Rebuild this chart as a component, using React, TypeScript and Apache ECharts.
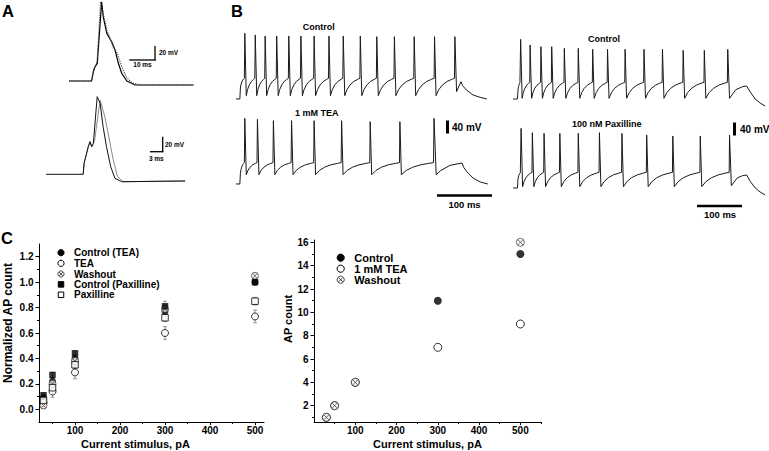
import React, { useEffect, useRef } from "react";
import * as echarts from "echarts";

// ---------- Panel A: single action potentials (ms, mV) ----------
const apTopSolid = [[0,-70],[8.8,-70],[9.5,-56.7],[10.1,-49.6],[11.0,-44.7],[12.7,43.3],[13.3,21.9],[14.7,-1.9],[16.6,-13.9],[17.9,-25.7],[19.2,-44.7],[20.5,-59],[22.5,-70],[25.7,-75.7],[48.4,-75.7]];
const apTopDotted = [[0,-70],[8.8,-70],[9.5,-54],[10.3,-48.6],[10.9,-43],[12.3,43.3],[13.2,28.6],[14.7,2.9],[17.2,-21],[18.8,-30.4],[20.5,-49.6],[22.2,-63.9],[24.4,-72.4],[27.6,-75.7],[48.4,-75.7]];
const apBotFirst = [[0,-70],[8.8,-70],[9.0,-55.3],[9.5,-44.3],[10.0,-33.2],[10.4,-26.5],[10.8,-33.2],[11.2,-28.7],[12.1,33.5],[12.8,24.7],[13.5,-6.5],[14.3,-33.2],[15.3,-59.9],[16.3,-75.3],[17.9,-79.9],[32.9,-78.9]];
const apBotSecond = [[8.8,-70],[9.0,-55.3],[9.5,-44.3],[10.0,-33.2],[10.4,-26.5],[10.8,-33.2],[11.2,-28.7],[11.5,-24.3],[12.8,29.1],[13.9,6.8],[14.7,-15.3],[15.9,-50.9],[16.9,-73.2],[18.3,-79.9],[32.9,-78.9]];

// ---------- Panel B: spike trains (ms, mV) ----------
// interspike ramp shape: [fraction of interval, fraction of rise]
const rampShape = [[0.15,0.35],[0.35,0.62],[0.6,0.82],[0.85,0.94],[1,1]];

const ctrlLeftSpikes = [16,35,53,74,96,118,142,169,195,226,256,288,324,361,398];
const ctrlLeftPeaks = [127,122,119,119,119,119,119,119,119,119,117,117,117,117,117];
const ctrlLeftTail = [[401,-48],[409,-18],[412,-30],[419,-43],[431,-58],[444,-65],[456,-70]];

const teaSpikes = [16,39,68,101,142,192,244,298,360];
const teaPeaks = [127,124,120,120,120,120,117,117,127];
const teaTail = [[364,-42],[372,-30],[389,-14],[411,-7],[414,-20],[420,-34],[431,-52],[444,-64],[458,-70]];

const ctrlRightSpikes = [17,38,62,86,114,145,177,210,249,291,332,378,425,477];
const ctrlRightPeaks = [109,92,87,87,82,82,79,79,79,79,79,76,76,79];
const ctrlRightTail = [[481,-68],[495,-42],[510,-33],[519,-31],[527,-49],[538,-70],[549,-82],[560,-91]];

const paxSpikes = [18,43,69,104,145,192,242,297,355,416,481];
const paxPeaks = [109,96,94,94,94,96,94,89,86,86,89];
const paxTail = [[485,-63],[498,-40],[510,-33],[519,-31],[527,-50],[538,-70],[549,-82],[560,-91]];

// ---------- Panel C left: normalized AP count ----------
const stimulus = [30, 50, 100, 300, 500];
const normCtrlTea = [0.09, 0.22, 0.40, 0.77, 1.0];
const normTea = [0.05, 0.14, 0.29, 0.60, 0.73];
const normWashout = [0.03, 0.20, 0.38, 0.79, 1.05];
const normCtrlPax = [0.11, 0.27, 0.44, 0.81, 1.0];
const normPax = [0.07, 0.17, 0.35, 0.72, 0.85];
const errCtrlTea = [0.02, 0.02, 0.03, 0.04, 0.0];
const errTea = [0.04, 0.045, 0.05, 0.05, 0.05];
const errWashout = [0.025, 0.02, 0.03, 0.03, 0.02];
const errCtrlPax = [0.02, 0.02, 0.02, 0.04, 0.0];
const errPax = [0.02, 0.03, 0.03, 0.03, 0.03];
const xTickLabels = [100, 200, 300, 400, 500];
const xMinorLeft = [50, 150, 250, 350, 450];
const yTickLeft = [0, 0.2, 0.4, 0.6, 0.8, 1.0, 1.2];
const yMinorLeft = [0.1, 0.3, 0.5, 0.7, 0.9, 1.1];

// ---------- Panel C right: AP count ----------
const countCtrl = [1, 2, 4, 11, 15];
const countTea = [1, 2, 4, 7, 9];
const countWashout = [1, 2, 4, null, 16];
const xMinorRight = [50, 150, 250, 350, 450, 550];
const yTickRight = [2, 4, 6, 8, 10, 12, 14, 16];
const yMinorRight = [1, 3, 5, 7, 9, 11, 13, 15];

const FONT = "'Liberation Sans', Arial, Helvetica, sans-serif";
const WASH_SYMBOL = "path://M10 5A5 5 0 1 1 0 5A5 5 0 1 1 10 5ZM1.8 1.8L8.2 8.2M8.2 1.8L1.8 8.2";

type Train = { rest: number; onset: number; jump: number; trough: number; thr: number; fall: number; spikes: number[]; peaks: number[]; tail: number[][] };

function buildTrain(tr: Train) {
  const pts: number[][] = [[0, tr.rest], [tr.onset, tr.rest], [tr.onset + 1, tr.jump]];
  let t0 = tr.onset + 1;
  let v0 = tr.jump;
  tr.spikes.forEach((ts, i) => {
    const t1 = ts - 0.8;
    for (const [f, r] of rampShape) pts.push([t0 + f * (t1 - t0), v0 + r * (tr.thr - v0)]);
    pts.push([ts, tr.peaks[i]]);
    if (i < tr.spikes.length - 1) {
      t0 = ts + tr.fall;
      v0 = tr.trough;
      pts.push([t0, v0]);
    }
  });
  tr.tail.forEach((p) => pts.push(p));
  return pts;
}

const pairs = (xs: number[], ys: (number | null)[]) =>
  xs.map((x, i) => [x, ys[i]]).filter((p) => p[1] !== null);
const errData = (xs: number[], ys: number[], es: number[]) =>
  xs.map((x, i) => [x, ys[i] - es[i], ys[i] + es[i]]).filter((d) => d[2] - d[1] > 0);

function buildOption() {
  const grids = [
    { left: 69, top: 0.5, width: 126, height: 87.5 },
    { left: 46, top: 94.8, width: 140, height: 91.5 },
    { left: 236, top: 29, width: 253, height: 78.33 },
    { left: 236, top: 114, width: 253, height: 78.33 },
    { left: 513, top: 29, width: 253, height: 78.33 },
    { left: 513, top: 118, width: 253, height: 78.33 },
    { left: 39, top: 244, width: 225, height: 178 },
    { left: 314, top: 240, width: 227, height: 182 },
  ].map((g) => ({ ...g, outerBoundsMode: "none", containLabel: false }));

  const hidden = (gridIndex: number, min: number, max: number) => ({ type: "value", gridIndex, min, max, show: false });
  const labelStyle = { fontSize: 10, fontWeight: "bold", fontFamily: FONT, color: "#000" };
  const axisLine = { show: true, onZero: false, lineStyle: { color: "#000", width: 1 } };
  const mainX = (gridIndex: number, min: number, max: number, padding: number[]) => ({
    type: "value", gridIndex, min, max, position: "bottom",
    name: "Current stimulus, pA", nameLocation: "middle", nameGap: 16,
    nameTextStyle: { fontSize: 11, fontWeight: "bold", fontFamily: FONT, color: "#000", padding },
    axisLine,
    axisTick: { show: true, customValues: xTickLabels, length: 3, lineStyle: { color: "#000" } },
    axisLabel: { customValues: xTickLabels, margin: 3, ...labelStyle },
    splitLine: { show: false },
  });
  const minorAxis = (gridIndex: number, min: number, max: number, values: number[], position: string) => ({
    type: "value", gridIndex, min, max, position,
    axisLine: { show: false, onZero: false }, axisLabel: { show: false }, splitLine: { show: false },
    axisTick: { show: true, customValues: values, length: 2, lineStyle: { color: "#000" } },
  });

  const xAxis = [
    hidden(0, 0, 49), hidden(1, 0, 33.1), hidden(2, 0, 460), hidden(3, 0, 460), hidden(4, 0, 562), hidden(5, 0, 562),
    mainX(6, 20, 520, [0, 32, 0, 0]), minorAxis(6, 20, 520, xMinorLeft, "bottom"),
    mainX(7, 0, 550, [0, 0, 0, 0]), minorAxis(7, 0, 550, xMinorRight, "bottom"),
  ];
  const yAxis = [
    hidden(0, -80, 45), hidden(1, -86, 36), hidden(2, -95, 140), hidden(3, -95, 140), hidden(4, -95, 140), hidden(5, -95, 140),
    {
      type: "value", gridIndex: 6, min: -0.1, max: 1.3, position: "left",
      name: "Normalized AP count", nameLocation: "middle", nameGap: 25,
      nameTextStyle: { fontSize: 12, fontWeight: "bold", fontFamily: FONT, color: "#000", padding: [0, 0, 0, 20] },
      axisLine,
      axisTick: { show: true, customValues: yTickLeft, length: 3.5, lineStyle: { color: "#000" } },
      axisLabel: { customValues: yTickLeft, margin: 5.5, formatter: (v: number) => v.toFixed(1), ...labelStyle },
      splitLine: { show: false },
    },
    minorAxis(6, -0.1, 1.3, yMinorLeft, "left"),
    {
      type: "value", gridIndex: 7, min: 0.6, max: 16.2, position: "left",
      name: "AP count", nameLocation: "middle", nameGap: 19.5,
      nameTextStyle: { fontSize: 11, fontWeight: "bold", fontFamily: FONT, color: "#000", padding: [0, 0, 0, 24] },
      axisLine,
      axisTick: { show: true, customValues: yTickRight, length: 3.5, lineStyle: { color: "#000" } },
      axisLabel: { customValues: yTickRight, margin: 5.5, ...labelStyle },
      splitLine: { show: false },
    },
    minorAxis(7, 0.6, 16.2, yMinorRight, "left"),
  ];

  const trace = (data: number[][], idx: number, color: string, width: number, type: any = "solid") => ({
    type: "line", xAxisIndex: idx, yAxisIndex: idx, data, showSymbol: false, symbol: "none",
    lineStyle: { color, width, type }, silent: true, z: 3, clip: false,
  });

  const trainCtrlL = buildTrain({ rest: -70, onset: 7, jump: -37, trough: -60, thr: -8, fall: 2.7, spikes: ctrlLeftSpikes, peaks: ctrlLeftPeaks, tail: ctrlLeftTail });
  const trainTea = buildTrain({ rest: -70, onset: 7, jump: -38, trough: -42, thr: -6, fall: 2.7, spikes: teaSpikes, peaks: teaPeaks, tail: teaTail });
  const trainCtrlR = buildTrain({ rest: -70, onset: 10, jump: -45, trough: -68, thr: -20, fall: 3.3, spikes: ctrlRightSpikes, peaks: ctrlRightPeaks, tail: ctrlRightTail });
  const trainPax = buildTrain({ rest: -70, onset: 10, jump: -45, trough: -66, thr: -23, fall: 3.3, spikes: paxSpikes, peaks: paxPeaks, tail: paxTail });

  const errorSeries = (data: number[][], ax: number) => ({
    type: "custom", xAxisIndex: ax, yAxisIndex: ax, z: 1, silent: true,
    encode: { x: 0, y: [1, 2] },
    data,
    renderItem: (_p: any, api: any) => {
      const x = api.value(0);
      const lo = api.coord([x, api.value(1)]);
      const hi = api.coord([x, api.value(2)]);
      const st = { stroke: "#8a8a8a", lineWidth: 0.9 };
      return {
        type: "group",
        children: [
          { type: "line", shape: { x1: lo[0], y1: lo[1], x2: hi[0], y2: hi[1] }, style: st },
          { type: "line", shape: { x1: lo[0] - 2, y1: lo[1], x2: lo[0] + 2, y2: lo[1] }, style: st },
          { type: "line", shape: { x1: hi[0] - 2, y1: hi[1], x2: hi[0] + 2, y2: hi[1] }, style: st },
        ],
      };
    },
  });

  const filled = { color: "#000" };
  const open = { color: "#fff", borderColor: "#000", borderWidth: 1 };
  const wash = { color: "#fff", borderColor: "#333", borderWidth: 0.9 };
  const sc = (name: string, data: any[], ax: number, symbol: string, size: number, itemStyle: any) => ({
    type: "scatter", name, data, xAxisIndex: ax, yAxisIndex: ax, symbol, symbolSize: size, itemStyle,
    silent: true, emphasis: { disabled: true }, z: 2,
  });

  const series: any[] = [
    trace(apTopSolid, 0, "#000", 1.2),
    trace(apTopDotted, 0, "#444", 1.1, [1.2, 1.2]),
    trace(apBotSecond, 1, "#8a8a8a", 1),
    trace(apBotFirst, 1, "#111", 1),
    trace(trainCtrlL, 2, "#1a1a1a", 1),
    trace(trainTea, 3, "#1a1a1a", 1),
    trace(trainCtrlR, 4, "#1a1a1a", 1),
    trace(trainPax, 5, "#1a1a1a", 1),
    errorSeries([
      ...errData(stimulus, normCtrlTea, errCtrlTea),
      ...errData(stimulus, normTea, errTea),
      ...errData(stimulus, normWashout, errWashout),
      ...errData(stimulus, normCtrlPax, errCtrlPax),
      ...errData(stimulus, normPax, errPax),
    ], 6),
    sc("Control (TEA)", pairs(stimulus, normCtrlTea), 6, "circle", 7, filled),
    sc("TEA", pairs(stimulus, normTea), 6, "circle", 7, open),
    sc("Washout", pairs(stimulus, normWashout), 6, WASH_SYMBOL, 7, wash),
    sc("Control (Paxilline)", pairs(stimulus, normCtrlPax), 6, "rect", 6.5, filled),
    sc("Paxilline", pairs(stimulus, normPax), 6, "rect", 6.5, open),
    sc("Control", pairs(stimulus, countCtrl), 8, "circle", 8, filled),
    sc("1 mM TEA", pairs(stimulus, countTea), 8, "circle", 8, open),
    sc("Washout ", pairs(stimulus, countWashout), 8, WASH_SYMBOL, 8, wash),
  ];

  const txt = (text: string, x: number, y: number, size: number, align = "left", weight = "bold") => ({
    type: "text", x, y, silent: true,
    style: { text, fontSize: size, fontWeight: weight, fontFamily: FONT, fill: "#000", align, textAlign: align, verticalAlign: "middle", textVerticalAlign: "middle" },
  });
  const ln = (x1: number, y1: number, x2: number, y2: number, w: number) => ({
    type: "line", silent: true, shape: { x1, y1, x2, y2 }, style: { stroke: "#000", lineWidth: w },
  });
  const washIcon = (cx: number, cy: number, r: number) => ({
    type: "group", silent: true,
    children: [
      { type: "circle", shape: { cx, cy, r }, style: { fill: "#fff", stroke: "#333", lineWidth: 0.9 } },
      { type: "line", shape: { x1: cx - r * 0.64, y1: cy - r * 0.64, x2: cx + r * 0.64, y2: cy + r * 0.64 }, style: { stroke: "#333", lineWidth: 0.9 } },
      { type: "line", shape: { x1: cx + r * 0.64, y1: cy - r * 0.64, x2: cx - r * 0.64, y2: cy + r * 0.64 }, style: { stroke: "#333", lineWidth: 0.9 } },
    ],
  });
  const dot = (cx: number, cy: number, r: number, fill: boolean) => ({
    type: "circle", silent: true, shape: { cx, cy, r }, style: { fill: fill ? "#000" : "#fff", stroke: "#000", lineWidth: 1 },
  });
  const sq = (cx: number, cy: number, s: number, fill: boolean) => ({
    type: "rect", silent: true, shape: { x: cx - s / 2, y: cy - s / 2, width: s, height: s }, style: { fill: fill ? "#000" : "#fff", stroke: "#000", lineWidth: 1 },
  });

  const legendL = ["Control (TEA)", "TEA", "Washout", "Control (Paxilline)", "Paxilline"];
  const legendLY = [252.7, 263.3, 274, 284.4, 294.8];
  const legendR = ["Control", "1 mM TEA", "Washout"];
  const legendRY = [257.7, 268.7, 279.7];

  const graphic = [
    txt("A", 2, 11, 16.5),
    txt("B", 231, 11, 16.5),
    txt("C", 1, 237.5, 16.5),
    // A scale bars
    ln(155, 46, 155, 60.5, 1.3), ln(129.3, 60, 155.6, 60, 1.3),
    txt("20 mV", 159, 52.5, 6.5), txt("10 ms", 142.5, 64.5, 6.5, "center"),
    ln(162.7, 136.7, 162.7, 152.2, 1.3), ln(150, 151.7, 163.3, 151.7, 1.3),
    txt("20 mV", 165, 144.5, 6.5), txt("3 ms", 156.3, 158, 6.5, "center"),
    // B labels
    txt("Control", 318.8, 26.7, 9, "center"),
    txt("1 mM TEA", 316.7, 113.3, 9, "center"),
    txt("Control", 604, 39.3, 9, "center"),
    txt("100 nM Paxilline", 606.7, 124, 9, "center"),
    { type: "rect", silent: true, shape: { x: 446, y: 120.5, width: 3, height: 13 }, style: { fill: "#000" } },
    txt("40 mV", 452, 127, 10),
    { type: "rect", silent: true, shape: { x: 733, y: 122.5, width: 3, height: 13 }, style: { fill: "#000" } },
    txt("40 mV", 740, 129, 10),
    ln(437, 195.5, 492, 195.5, 2.5), txt("100 ms", 464.5, 204.5, 9.5, "center"),
    ln(697, 206, 742, 206, 2.5), txt("100 ms", 720, 214.5, 9.5, "center"),
    // C left legend
    dot(61, legendLY[0], 3.1, true),
    dot(61, legendLY[1], 3.1, false),
    washIcon(61, legendLY[2], 3.1),
    sq(61, legendLY[3], 5.5, true),
    sq(61, legendLY[4], 5.5, false),
    ...legendL.map((t, i) => txt(t, 74, legendLY[i], 10)),
    // C right legend
    dot(340.7, legendRY[0], 3.6, true),
    dot(340.7, legendRY[1], 3.6, false),
    washIcon(340.7, legendRY[2], 3.6),
    ...legendR.map((t, i) => txt(t, 354.3, legendRY[i], 11)),
  ];

  return {
    animation: false,
    backgroundColor: "#fff",
    textStyle: { fontFamily: FONT },
    grid: grids,
    xAxis,
    yAxis,
    series,
    graphic: { elements: graphic },
  };
}

export default function App() {
  const ref = useRef<HTMLDivElement>(null);
  useEffect(() => {
    document.body.style.margin = "0";
    const chart = echarts.init(ref.current!, null, { renderer: "svg" });
    chart.setOption(buildOption() as any);
    return () => chart.dispose();
  }, []);
  return <div ref={ref} style={{ width: 769, height: 451, background: "#fff" }} />;
}
